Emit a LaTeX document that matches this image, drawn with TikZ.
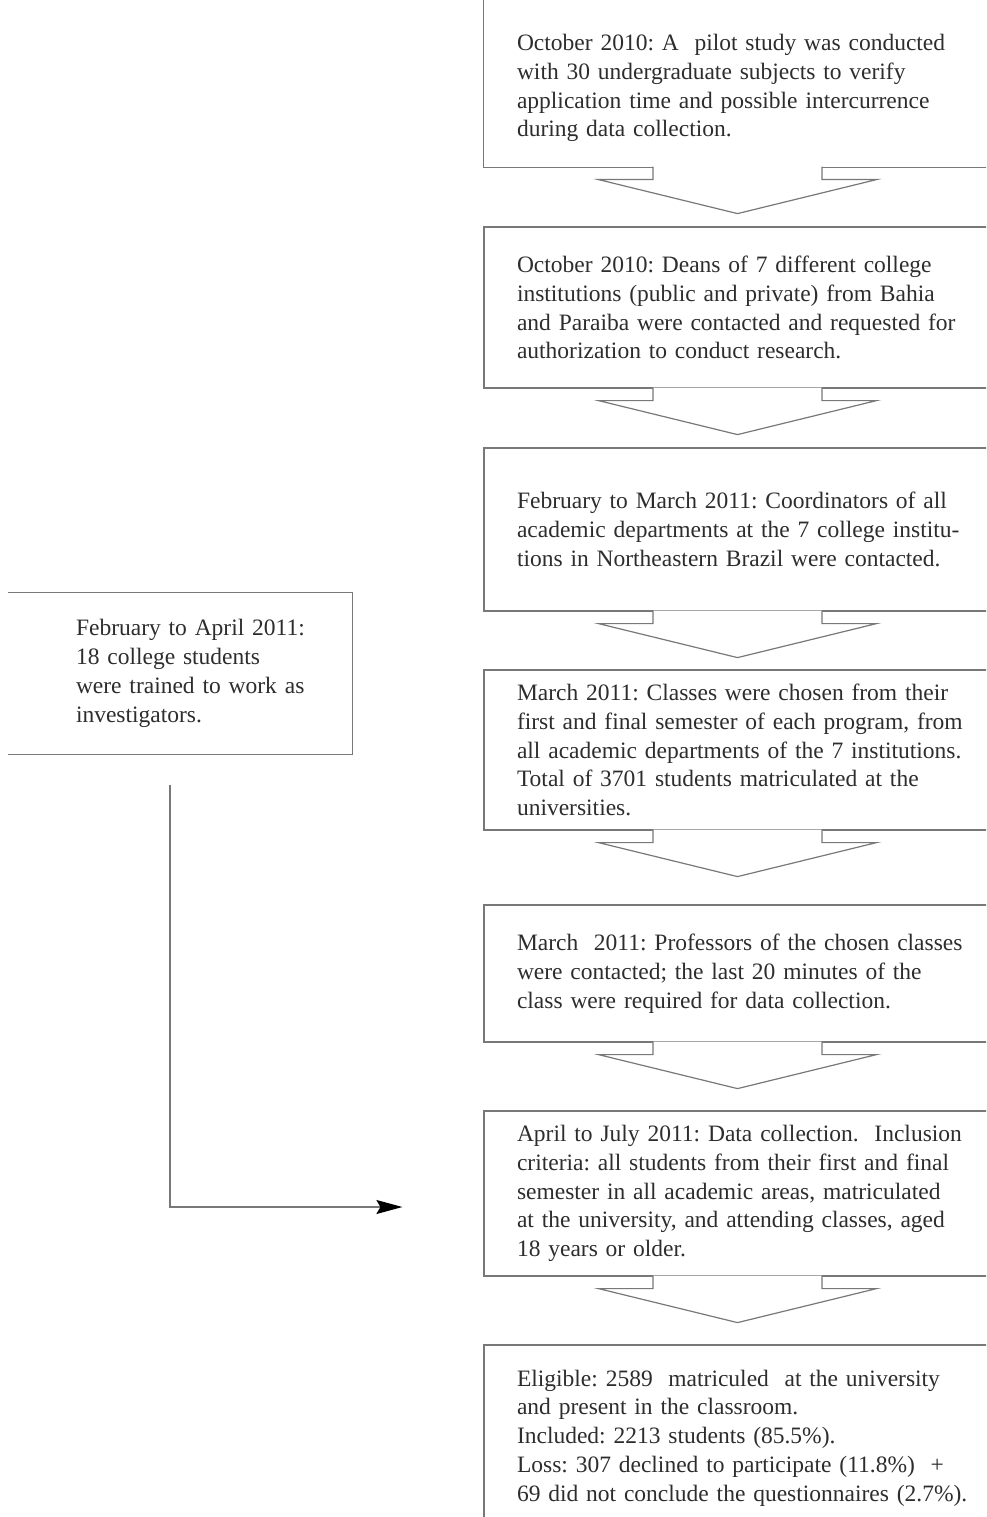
\documentclass[tikz,border=0pt]{standalone}
\usepackage{fontspec}
\setmainfont{Liberation Serif}
\usepackage{tikz}
\usetikzlibrary{arrows.meta, positioning, calc}
\definecolor{linegray}{RGB}{120,120,120}
\definecolor{textgray}{RGB}{45,45,45}
\tikzstyle{stage} = [rectangle, text width=470pt, inner xsep=33pt, inner ysep=0pt, align=left, draw=linegray, line width=1.2pt, text=textgray, font=\fontsize{23.5pt}{28.8pt}\selectfont]
\tikzstyle{trainbox} = [rectangle, text width=250pt, inner xsep=0pt, inner ysep=0pt, minimum height=161pt, align=left, text=textgray, font=\fontsize{23.5pt}{28.8pt}\selectfont]
\tikzstyle{sides} = [draw=linegray, line width=1.2pt]
\tikzstyle{blockarrow} = [draw=linegray, fill=white, line width=1.2pt]
\tikzstyle{link} = [draw=linegray, line width=1.2pt, -{Stealth[length=26pt, width=14pt, inset=4pt, color=black]}]
\frenchspacing

\begin{document}
\begin{tikzpicture}[x=1pt, y=1pt, node distance=221pt]
\useasboundingbox (0,0) rectangle (986,-1517);
\clip (0,0) rectangle (986,-1517);

\node (pilot) [stage, draw=none, minimum height=158pt] at (752,-88) {October 2010: A~ pilot study was conducted\\ with 30 undergraduate subjects to verify\\ application time and possible intercurrence\\ during data collection.};
\node (dean) [stage, minimum height=161pt, below of=pilot, yshift=1.5pt] {October 2010: Deans of 7 different college\\ institutions (public and private) from Bahia\\ and Paraiba were contacted and requested for\\ authorization to conduct research.};
\node (coord) [stage, minimum height=163pt, below of=dean, yshift=-1pt] {February to March 2011: Coordinators of all\\ academic departments at the 7 college institu-\\ tions in Northeastern Brazil were contacted.};
\node (classes) [stage, minimum height=160pt, below of=coord, yshift=0.5pt] {March 2011: Classes were chosen from their\\ first and final semester of each program, from\\ all academic departments of the 7 institutions.\\ Total of 3701 students matriculated at the\\ universities.};
\node (prof) [stage, minimum height=137pt, below of=classes, yshift=-2.5pt] {March~ 2011: Professors of the chosen classes\\ were contacted; the last 20 minutes of the\\ class were required for data collection.};
\node (collect) [stage, minimum height=165pt, below of=prof, yshift=1pt] {April to July 2011: Data collection.~ Inclusion\\ criteria: all students from their first and final\\ semester in all academic areas, matriculated\\ at the university, and attending classes, aged\\ 18 years or older.};
\node (result) [stage, minimum height=186pt, below of=collect, yshift=-23.5pt] {Eligible: 2589~ matriculed~ at the university\\ and present in the classroom.\\ Included: 2213 students (85.5\%).\\ Loss: 307 declined to participate (11.8\%) ~+\\ 69 did not conclude the questionnaires (2.7\%).};
\node (train) [trainbox, left of=classes, xshift=-330pt, yshift=76.5pt] {February to April 2011:\\ 18 college students\\ were trained to work as\\ investigators.};

% open sides of the cut boxes
\draw[sides] ([yshift=20pt]pilot.north west) -- (pilot.south west) -- (pilot.south east) -- ([yshift=20pt]pilot.north east);
\draw[sides] ([xshift=-68pt]train.north west) -- ([xshift=26pt]train.north east) -- ([xshift=26pt]train.south east) -- ([xshift=-68pt]train.south west);

% block arrows between the stages
\draw[blockarrow] ([xshift=-99pt, yshift=1pt]pilot.south) -- ++(0,-13) -- ++(-54.5,0) -- ++(139,-34) -- ++(139,34) -- ++(-54.5,0) -- ++(0,13);
\draw[blockarrow] ([xshift=-99pt, yshift=1pt]dean.south) -- ++(0,-13) -- ++(-54.5,0) -- ++(139,-34) -- ++(139,34) -- ++(-54.5,0) -- ++(0,13);
\draw[blockarrow] ([xshift=-99pt, yshift=1pt]coord.south) -- ++(0,-13) -- ++(-54.5,0) -- ++(139,-34) -- ++(139,34) -- ++(-54.5,0) -- ++(0,13);
\draw[blockarrow] ([xshift=-99pt, yshift=1pt]classes.south) -- ++(0,-13) -- ++(-54.5,0) -- ++(139,-34) -- ++(139,34) -- ++(-54.5,0) -- ++(0,13);
\draw[blockarrow] ([xshift=-99pt, yshift=1pt]prof.south) -- ++(0,-13) -- ++(-54.5,0) -- ++(139,-34) -- ++(139,34) -- ++(-54.5,0) -- ++(0,13);
\draw[blockarrow] ([xshift=-99pt, yshift=1pt]collect.south) -- ++(0,-13) -- ++(-54.5,0) -- ++(139,-34) -- ++(139,34) -- ++(-54.5,0) -- ++(0,13);

% investigators join the data collection
\coordinate (trainfoot) at ([xshift=-31pt, yshift=-31pt]train.south);
\coordinate (collectin) at ([xshift=-81pt, yshift=-13.5pt]collect.west);
\draw[link] (trainfoot) |- (collectin);

\end{tikzpicture}
\end{document}
